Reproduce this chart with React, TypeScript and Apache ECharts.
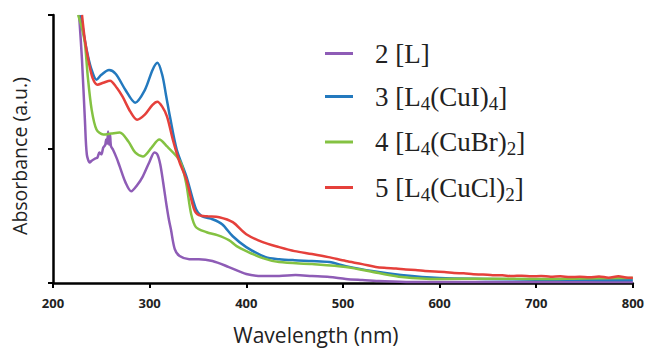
import React, { useEffect, useRef } from "react";
import * as echarts from "echarts";

// Wavelength (nm) / absorbance (a.u.) pairs
const wl2 = [227, 230, 233, 235, 238, 240, 242, 244, 246, 248, 250, 252, 254, 255, 256, 257, 258, 259, 260, 262, 266, 269, 275, 281, 287, 293, 300, 305, 308, 311, 314, 317, 320, 322, 326, 331, 341, 351, 365, 382, 400, 417, 434, 451, 468, 486, 503, 520, 537, 570, 600, 650, 700, 750, 800];
const abs2 = [2.0, 1.665, 1.219, 0.959, 0.9, 0.912, 0.922, 0.93, 0.937, 0.974, 0.96, 1.011, 1.03, 1.071, 1.04, 1.13, 1.033, 1.108, 1.02, 0.996, 0.93, 0.87, 0.751, 0.684, 0.729, 0.796, 0.907, 0.974, 0.959, 0.885, 0.75, 0.602, 0.47, 0.401, 0.253, 0.201, 0.178, 0.178, 0.164, 0.119, 0.067, 0.052, 0.052, 0.059, 0.052, 0.045, 0.03, 0.022, 0.015, 0.007, 0.007, 0.007, 0.007, 0.007, 0.007];

const wl3 = [229, 232, 236, 240, 245, 250, 258, 265, 275, 285, 295, 303, 308, 313, 317, 321, 328, 338, 348, 354, 365, 375, 386, 400, 420, 434, 450, 468, 486, 503, 530, 560, 600, 650, 700, 750, 800];
const abs3 = [2.0, 1.85, 1.7, 1.59, 1.517, 1.554, 1.59, 1.56, 1.44, 1.346, 1.44, 1.59, 1.643, 1.554, 1.4, 1.242, 0.996, 0.796, 0.55, 0.498, 0.476, 0.439, 0.349, 0.268, 0.193, 0.178, 0.17, 0.164, 0.156, 0.126, 0.089, 0.06, 0.037, 0.03, 0.025, 0.024, 0.022];

const wl4 = [226, 230, 233, 236, 240, 245, 252, 260, 269, 278, 285, 293, 302, 310, 318, 328, 333, 338, 343, 348, 359, 370, 382, 390, 400, 417, 434, 468, 503, 537, 561, 600, 650, 700, 750, 800];
const abs4 = [2.0, 1.9, 1.79, 1.54, 1.294, 1.145, 1.108, 1.115, 1.123, 1.056, 0.974, 0.944, 1.011, 1.071, 1.019, 0.944, 0.885, 0.736, 0.513, 0.416, 0.379, 0.357, 0.32, 0.275, 0.238, 0.186, 0.156, 0.141, 0.119, 0.074, 0.045, 0.03, 0.032, 0.03, 0.034, 0.037];

const wl5 = [230, 233, 237, 241, 246, 252, 259, 266, 272, 280, 287, 295, 303, 308, 313, 318, 324, 331, 338, 346, 351, 360, 372, 386, 400, 417, 434, 450, 468, 485, 503, 520, 534, 545, 555, 565, 575, 585, 595, 605, 615, 625, 635, 645, 655, 665, 675, 685, 695, 705, 715, 725, 735, 745, 755, 765, 775, 785, 795, 800];
const abs5 = [2.0, 1.814, 1.65, 1.53, 1.48, 1.494, 1.51, 1.457, 1.39, 1.279, 1.219, 1.257, 1.33, 1.353, 1.316, 1.242, 1.07, 0.9, 0.773, 0.55, 0.506, 0.498, 0.491, 0.454, 0.364, 0.305, 0.268, 0.238, 0.216, 0.193, 0.164, 0.141, 0.119, 0.112, 0.108, 0.1, 0.097, 0.09, 0.085, 0.082, 0.074, 0.072, 0.066, 0.063, 0.058, 0.057, 0.052, 0.055, 0.05, 0.052, 0.047, 0.05, 0.044, 0.046, 0.042, 0.048, 0.04, 0.05, 0.039, 0.04];

const seriesNames = ["2", "3", "4", "5"];
const seriesLabels = [
  "{m|2 [L]}",
  "{m|3 [L}{s|4}{m|(CuI)}{s|4}{m|]}",
  "{m|4 [L}{s|4}{m|(CuBr)}{s|2}{m|]}",
  "{m|5 [L}{s|4}{m|(CuCl)}{s|2}{m|]}",
];
const seriesColors = ["#8e5cb6", "#2379be", "#84c242", "#e5403b"];
const xTicks = { min: 200, max: 800, interval: 100 };

const zip = (xs: number[], ys: number[]) => xs.map((x, i) => [x, ys[i]]);

export default function App() {
  const ref = useRef<HTMLDivElement>(null);
  useEffect(() => {
    if (!ref.current) return;
    const chart = echarts.init(ref.current, undefined, { renderer: "svg" });
    const data = [zip(wl2, abs2), zip(wl3, abs3), zip(wl4, abs4), zip(wl5, abs5)];
    chart.setOption({
      animation: false,
      backgroundColor: "#ffffff",
      grid: { left: 53, right: 12, top: 15, bottom: 66, containLabel: false },
      xAxis: {
        type: "value",
        min: xTicks.min,
        max: xTicks.max,
        interval: xTicks.interval,
        name: "Wavelength (nm)",
        nameLocation: "middle",
        nameGap: 41,
        nameTextStyle: { fontFamily: "Open Sans", fontSize: 21, color: "#222", padding: [0, 54, 0, 0] },
        axisLine: { lineStyle: { color: "#000", width: 2.5 } },
        axisTick: { show: true, length: 5, lineStyle: { color: "#000", width: 2 } },
        axisLabel: { fontFamily: "Open Sans", fontWeight: "bold", fontSize: 13, color: "#222", margin: 13 },
        splitLine: { show: false },
      },
      yAxis: {
        type: "value",
        min: 0,
        max: 2,
        interval: 1,
        name: "Absorbance (a.u.)",
        nameLocation: "middle",
        nameGap: 24,
        nameTextStyle: { fontFamily: "Open Sans", fontSize: 19.5, color: "#222", padding: [0, 14, 0, 0] },
        axisLine: { show: true, lineStyle: { color: "#000", width: 2.5 } },
        axisTick: { show: true, length: 5, lineStyle: { color: "#000", width: 2 } },
        axisLabel: { show: false },
        splitLine: { show: false },
      },
      legend: {
        orient: "vertical",
        left: 325,
        top: 40,
        padding: 0,
        itemWidth: 28,
        itemHeight: 3,
        itemGap: 16,
        icon: "rect",
        data: seriesNames,
        formatter: (name: string) => seriesLabels[seriesNames.indexOf(name)],
        textStyle: {
          padding: [0, 0, 0, 17],
          rich: {
            m: { fontFamily: "Liberation Serif", fontSize: 27, color: "#222", lineHeight: 32 },
            s: { fontFamily: "Liberation Serif", fontSize: 19, color: "#222", lineHeight: 14, verticalAlign: "bottom" },
          },
        },
      },
      series: seriesNames.map((n, i) => ({
        name: n,
        type: "line",
        data: data[i],
        showSymbol: false,
        symbol: "none",
        smooth: 0.3,
        clip: true,
        lineStyle: { color: seriesColors[i], width: 2.5 },
        itemStyle: { color: seriesColors[i] },
      })),
    });
    return () => chart.dispose();
  }, []);
  return <div ref={ref} style={{ width: 647, height: 350, position: "absolute", left: 0, top: 0 }} />;
}
